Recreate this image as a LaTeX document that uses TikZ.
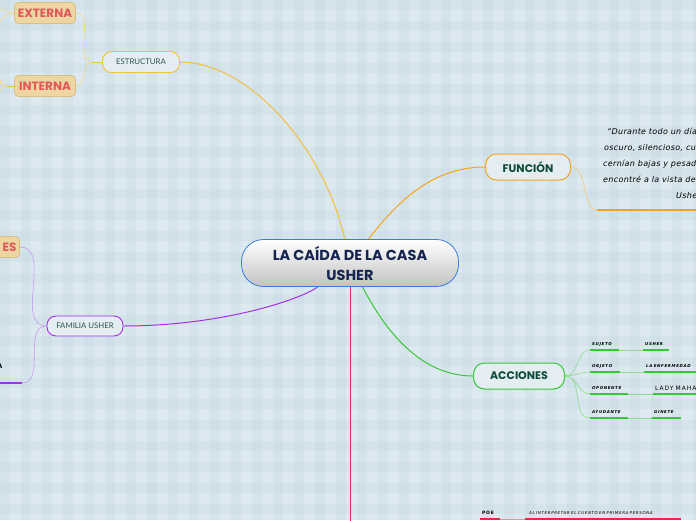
\documentclass[tikz,border=0pt]{standalone}
\usepackage{fontspec}
\usepackage{tikz}
\usetikzlibrary{backgrounds}
\setmainfont{Lato}
\newfontfamily\titlefont{Poppins}
\newfontfamily\quotefont{DejaVu Sans}[LetterSpace=4]
\newfontfamily\leaffont{DejaVu Sans}[LetterSpace=16]
\definecolor{paper}{HTML}{DDE9F0}
\definecolor{stripe}{HTML}{C3D6E0}
\definecolor{rootblue}{HTML}{3A7BE0}
\definecolor{rootgrey}{HTML}{C2C2C2}
\definecolor{navy}{HTML}{15254F}
\definecolor{gold}{HTML}{F5BF3A}
\definecolor{amber}{HTML}{F5A31E}
\definecolor{paleyellow}{HTML}{F3D889}
\definecolor{paleamber}{HTML}{F7C878}
\definecolor{leafgreen}{HTML}{35C935}
\definecolor{palegreen}{HTML}{8EDB8E}
\definecolor{famviolet}{HTML}{A52FEF}
\definecolor{lilac}{HTML}{C79AF0}
\definecolor{poered}{HTML}{E8264B}
\definecolor{palered}{HTML}{F08A9C}
\definecolor{tan}{HTML}{EDD6A2}
\definecolor{tanedge}{HTML}{D6C183}
\definecolor{redtext}{HTML}{E2585A}
\definecolor{darkgreen}{HTML}{0D4A35}
\definecolor{tealtext}{HTML}{2B5557}
\definecolor{boxfill}{HTML}{E3EDF2}
\pgfdeclarelayer{bg}
\pgfdeclarelayer{edges}
\pgfsetlayers{bg,edges,main}
\tikzstyle{central} = [rectangle, rounded corners=22pt, minimum width=217pt, minimum height=47pt, draw=rootblue, line width=0.8pt, top color=white, bottom color=rootgrey, text=navy, align=center, font=\titlefont\bfseries\fontsize{14.5}{20}\selectfont]
\tikzstyle{topic} = [rectangle, rounded corners=11pt, minimum height=26pt, line width=1pt, fill=boxfill, text=darkgreen, font=\titlefont\bfseries\fontsize{11}{12}\selectfont]
\tikzstyle{subtopic} = [rectangle, rounded corners=9pt, minimum height=21pt, line width=0.9pt, fill=boxfill, text=tealtext, font=\fontsize{7.8}{9}\selectfont]
\tikzstyle{part} = [rectangle, rounded corners=4pt, minimum width=61pt, minimum height=21pt, inner xsep=2pt, fill=tan, draw=tanedge, line width=0.8pt, text=redtext, font=\titlefont\bfseries\fontsize{12}{13}\selectfont]
\tikzstyle{quote} = [anchor=north west, align=left, inner sep=0pt, font=\quotefont\itshape\fontsize{8}{16}\selectfont]
\tikzstyle{thin} = [line width=0.6pt]
\tikzstyle{bar} = [line width=1.3pt]
\tikzset{leaf/.style={anchor=south west, text width=#1, inner xsep=2pt, inner ysep=4pt, text depth=0pt, align=left, font=\leaffont\itshape\bfseries\fontsize{4}{5}\selectfont}}

\begin{document}
\begin{tikzpicture}[x=1pt, y=-1pt]
\useasboundingbox (0,0) rectangle (696,520);

% checked paper
\begin{pgfonlayer}{bg}
\fill[paper] (0,0) rectangle (696,520);
\foreach \x in {0,21,...,693}
  \fill[stripe, opacity=0.3] (\x,0) rectangle ++(10,520);
\foreach \y in {0,21,...,519}
  \fill[stripe, opacity=0.3] (0,\y) rectangle ++(696,10);
\end{pgfonlayer}

% main topics
\node (root) [central] at (350,263) {LA CAÍDA DE LA CASA\\USHER};
\node (estructura) [subtopic, draw=gold, minimum width=77pt] at (141,62) {ESTRUCTURA};
\node (externa) [part] at (45,13) {EXTERNA};
\node (interna) [part] at (45,86) {INTERNA};
\node (funcion) [topic, draw=amber, minimum width=85pt] at (528,167) {FUNCIÓN};
\node (acciones) [topic, draw=leafgreen, minimum width=91pt] at (519,376) {ACCIONES};
\node (familia) [subtopic, draw=famviolet, minimum width=76pt, minimum height=20pt] at (85,326) {FAMILIA USHER};
\node (personajes) [part, anchor=east, minimum width=0pt, inner xsep=3pt] at (20,247) {\hspace*{30pt}ES};

% texts of the leaves
\node (quote) [quote] at (603,128) {\hspace*{4pt}“Durante todo un día\\
  \hspace*{1pt}oscuro, silencioso, cuando\\
  cernían bajas y pesadas\\
  encontré a la vista de la\\
  \hspace*{73pt}Usher};
\node (sujeto) [leaf=25pt] at (590,350) {SUJETO};
\node (usher) [leaf=22pt] at (643,350) {USHER};
\node (objeto) [leaf=26pt] at (590,372) {OBJETO};
\node (enfermedad) [leaf=56pt] at (644,372) {LA ENFERMEDAD};
\node (oponente) [leaf=34pt] at (590,394) {OPONENTE};
\node (lady) [leaf=47pt, font=\leaffont\fontsize{6}{7}\selectfont, inner ysep=3pt] at (653,394) {LADY MAHAN};
\node (ayudante) [leaf=34pt] at (590,418) {AYUDANTE};
\node (ginete) [leaf=25pt] at (652,418) {GINETE};
\node (poe) [leaf=16pt, font=\leaffont\bfseries\fontsize{4.5}{5}\selectfont] at (480,519) {POE};
\node (lectura) [leaf=148pt, font=\leaffont\itshape\fontsize{4}{5}\selectfont, inner xsep=4pt] at (525,519) {AL INTERPRETAR EL CUENTO EN PRIMERA PERSONA};
\node (famleaf) [anchor=base east, font=\titlefont\bfseries\fontsize{6.5}{7}\selectfont] at (6,368) {A};

\coordinate (estrfork) at (92,62);
\coordinate (quoteline) at (597,210);
\coordinate (quoteend) at (700,210);
\coordinate (famline) at (22,383);
\coordinate (famstart) at (-10,383);
\coordinate (poeend) at (350,530);

\begin{pgfonlayer}{edges}
\draw[gold, line width=1pt] (estructura.east) .. controls (250,62) and (325,150) .. (root);
\draw[amber, line width=1pt] (root) .. controls (395,205) and (430,167) .. (funcion.west);
\draw[leafgreen, line width=1pt] (root) .. controls (385,330) and (420,376) .. (acciones.west);
\draw[famviolet, line width=1pt] (root) .. controls (300,300) and (220,326) .. (familia.east);
\draw[poered, line width=1pt] (root) -- (poeend);

% estructura
\draw[gold, line width=1pt] (estructura.west) -- (estrfork);
\draw[paleyellow, thin] (estrfork) to[out=180, in=0] (externa.east);
\draw[paleyellow, thin] (estrfork) to[out=180, in=0] (interna.east);
\draw[paleyellow, thin] (externa.west) -- ++(-20,-6);
\draw[paleyellow, thin] (externa.west) to[out=180, in=80] ++(-18,20);
\draw[gold, line width=1pt] (interna.west) -- ++(-8,0) coordinate (intfork);
\draw[paleyellow, thin] (intfork) to[out=180, in=-60] ++(-10,-18);
\draw[paleyellow, thin] (intfork) to[out=180, in=-20] ++(-10,-10);
\draw[paleyellow, thin] (intfork) to[out=180, in=60] ++(-10,22);

% funcion
\draw[paleamber, thin] (funcion.east) .. controls (588,167) and (582,210) .. (quoteline);
\draw[amber, line width=1.5pt] (quoteline) -- (quoteend);

% acciones
\foreach \n in {sujeto, objeto, oponente, ayudante}
  \draw[palegreen, thin] (acciones.east) to[out=0, in=180] (\n.south west);
\foreach \a/\b in {sujeto/usher, objeto/enfermedad, oponente/lady, ayudante/ginete}{
  \draw[palegreen, thin] (\a.south east) -- (\b.south west);
  \draw[leafgreen, bar] (\a.south west) -- (\a.south east);
  \draw[leafgreen, bar] (\b.south west) -- (\b.south east);
}

% familia
\draw[lilac, thin] (familia.west) to[out=180, in=0] (personajes.east);
\draw[lilac, thin] (familia.west) to[out=180, in=0] (famline);
\draw[famviolet, bar] (famstart) -- (famline);

% poe
\draw[palered, thin] (poe.south east) -- (lectura.south west);
\draw[poered, bar] (poe.south west) -- (poe.south east);
\draw[poered, bar] (lectura.south west) -- (lectura.south east);
\end{pgfonlayer}
\end{tikzpicture}
\end{document}
